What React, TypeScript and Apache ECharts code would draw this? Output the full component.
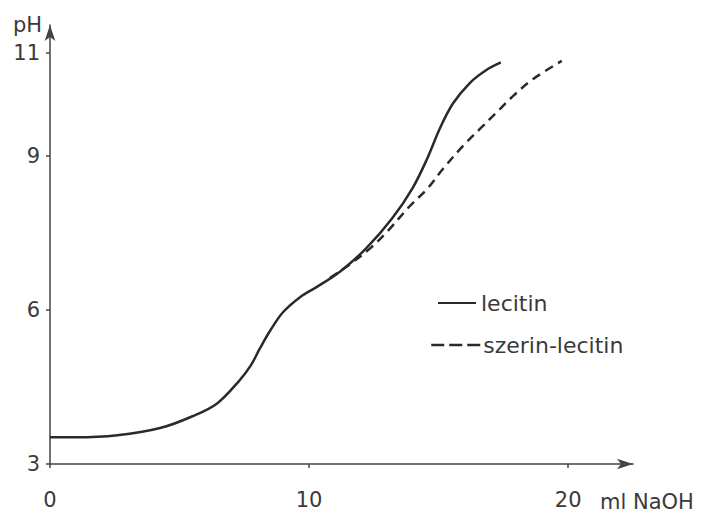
import React, { useEffect, useRef } from "react";
import * as echarts from "echarts";

const lecitinX = [0, 1.0, 2.6, 4.25, 5.5, 6.45, 7.3, 7.75, 8.1, 8.5, 9.0, 9.65, 10.3, 11.2, 12.2, 13.2, 14.0, 14.55, 15.05, 15.55, 16.2, 16.8, 17.4];
const lecitinY = [3.52, 3.52, 3.56, 3.7, 3.93, 4.18, 4.62, 4.92, 5.25, 5.6, 5.96, 6.25, 6.45, 6.75, 7.2, 7.78, 8.38, 8.94, 9.54, 10.02, 10.42, 10.66, 10.82];

const szerinX = [10.8, 11.6, 12.4, 13.0, 13.9, 14.56, 15.17, 15.95, 16.6, 17.26, 17.88, 18.65, 19.75];
const szerinY = [6.62, 6.9, 7.22, 7.52, 8.03, 8.36, 8.75, 9.2, 9.53, 9.86, 10.17, 10.5, 10.85];

const xTicks = [0, 10, 20];
const yTicks = [3, 6, 9, 11];

const seriesNames = ["lecitin", "szerin-lecitin"];

const FONT = "DejaVu Sans";
const INK = "#3a3a3a";

export default function App() {
  const ref = useRef<HTMLDivElement>(null);
  useEffect(() => {
    if (!ref.current) return;
    const chart = echarts.init(ref.current, null, { renderer: "svg" });
    const lec = lecitinX.map((x, i) => [x, lecitinY[i]]);
    const sz = szerinX.map((x, i) => [x, szerinY[i]]);
    const hiddenSymbol = { color: "rgba(0,0,0,0)", borderWidth: 0, opacity: 0 };
    chart.setOption({
      animation: false,
      backgroundColor: "#ffffff",
      textStyle: { fontFamily: FONT, color: INK },
      grid: { left: 50, right: 68, top: 25, bottom: 46, containLabel: false },
      legend: [
        {
          data: [seriesNames[0]],
          orient: "vertical",
          left: 432,
          top: 287,
          itemWidth: 38,
          itemHeight: 14,
          itemStyle: hiddenSymbol,
          textStyle: { fontFamily: FONT, fontSize: 22, color: INK, padding: [0, 0, 0, 0] },
          lineStyle: { type: "solid", width: 2 },
          selectedMode: false,
        },
        {
          data: [seriesNames[1]],
          orient: "vertical",
          left: 425,
          top: 329,
          itemWidth: 55,
          itemHeight: 14,
          itemStyle: hiddenSymbol,
          textStyle: { fontFamily: FONT, fontSize: 22, color: INK, padding: [0, 0, 0, -8] },
          lineStyle: { type: [13, 5], width: 2.5 },
          selectedMode: false,
        },
      ],
      xAxis: {
        type: "value",
        min: 0,
        max: 22.5,
        interval: 10,
        name: "ml NaOH",
        nameLocation: "end",
        nameGap: -33,
        nameTextStyle: {
          fontFamily: FONT,
          fontSize: 21,
          color: INK,
          align: "left",
          verticalAlign: "top",
          padding: [27, 0, 0, 0],
        },
        splitLine: { show: false },
        axisLine: {
          show: true,
          symbol: ["none", "arrow"],
          symbolSize: [8, 16],
          lineStyle: { color: "#444", width: 1.5 },
        },
        axisTick: { show: true, customValues: xTicks, length: 4, inside: false, lineStyle: { color: "#444", width: 1.5 } },
        axisLabel: { customValues: xTicks, margin: 25, fontFamily: FONT, fontSize: 21, color: INK },
      },
      yAxis: {
        type: "value",
        min: 3,
        max: 11.55,
        name: "pH",
        nameLocation: "end",
        nameGap: 0,
        nameTextStyle: {
          fontFamily: FONT,
          fontSize: 21,
          color: INK,
          align: "right",
          verticalAlign: "middle",
          padding: [0, 8, 0, 0],
        },
        splitLine: { show: false },
        axisLine: {
          show: true,
          symbol: ["none", "arrow"],
          symbolSize: [8, 16],
          lineStyle: { color: "#444", width: 1.5 },
        },
        axisTick: { show: true, customValues: yTicks, length: 4, lineStyle: { color: "#444", width: 1.5 } },
        axisLabel: { customValues: yTicks, margin: 10, fontFamily: FONT, fontSize: 21, color: INK },
      },
      series: [
        {
          name: seriesNames[0],
          type: "line",
          data: lec,
          smooth: 0.35,
          showSymbol: false,
          symbol: "none",
          lineStyle: { color: "#2a2a2a", width: 2.5, type: "solid" },
          itemStyle: { color: "#2a2a2a" },
        },
        {
          name: seriesNames[1],
          type: "line",
          data: sz,
          smooth: 0.35,
          showSymbol: false,
          symbol: "none",
          lineStyle: { color: "#2a2a2a", width: 2.5, type: [9, 6] },
          itemStyle: { color: "#2a2a2a" },
        },
      ],
    });
    return () => chart.dispose();
  }, []);
  return <div ref={ref} style={{ width: 701, height: 512, position: "absolute", left: 0, top: 0 }} />;
}
